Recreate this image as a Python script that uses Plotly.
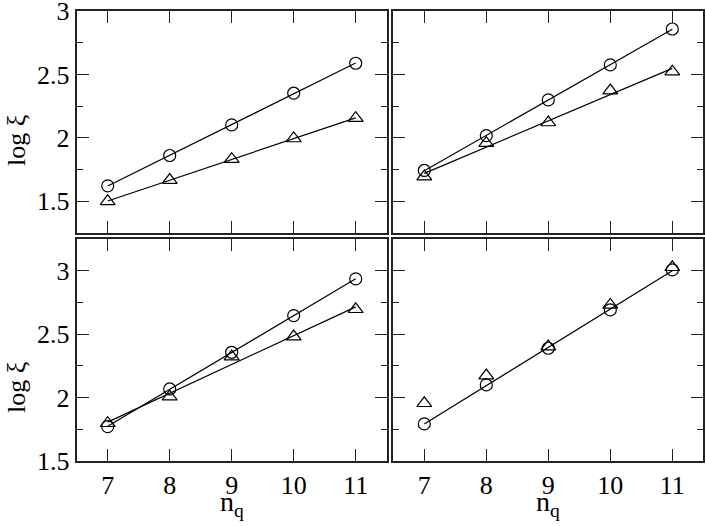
import numpy as np
import plotly.graph_objects as go
from plotly.subplots import make_subplots

nq = [7, 8, 9, 10, 11]

# panel (1,1) top-left
tl_circ = [1.622, 1.861, 2.102, 2.352, 2.588]
tl_tri = [1.500, 1.667, 1.832, 1.995, 2.155]
# panel (1,2) top-right
tr_circ = [1.743, 2.018, 2.299, 2.575, 2.858]
tr_tri = [1.695, 1.958, 2.121, 2.373, 2.522]
# panel (2,1) bottom-left
bl_circ = [1.769, 2.067, 2.357, 2.647, 2.937]
bl_tri = [1.796, 2.006, 2.323, 2.481, 2.697]
# panel (2,2) bottom-right
br_circ = [1.791, 2.099, 2.389, 2.692, 3.008]
br_tri = [1.954, 2.173, 2.402, 2.731, 3.029]

xticks = [7, 8, 9, 10, 11]
xtick_text = ["7", "8", "9", "10", "11"]
yticks = [1.5, 2, 2.5, 3]
ytick_text = ["1.5", "2", "2.5", "3"]

W, H = 706, 526
FONT = "Liberation Serif, Times New Roman, serif"

fig = make_subplots(rows=2, cols=2)

panels = [
    (1, 1, tl_circ, tl_tri, True),
    (1, 2, tr_circ, tr_tri, True),
    (2, 1, bl_circ, bl_tri, True),
    (2, 2, br_circ, br_tri, False),
]

def fit_line(x, y):
    k, b = np.polyfit(x, y, 1)
    xs = [min(x), max(x)]
    return xs, [k * v + b for v in xs]

for r, c, circ, tri, tri_line in panels:
    xs, ys = fit_line(nq, circ)
    fig.add_trace(go.Scatter(x=xs, y=ys, mode="lines",
                             line=dict(color="black", width=1.2),
                             showlegend=False, hoverinfo="skip"), row=r, col=c)
    if tri_line:
        xs, ys = fit_line(nq, tri)
        fig.add_trace(go.Scatter(x=xs, y=ys, mode="lines",
                                 line=dict(color="black", width=1.2),
                                 showlegend=False, hoverinfo="skip"), row=r, col=c)
    fig.add_trace(go.Scatter(x=nq, y=circ, mode="markers",
                             marker=dict(symbol="circle-open", size=12,
                                         color="black", line=dict(width=1.2)),
                             showlegend=False), row=r, col=c)
    fig.add_trace(go.Scatter(x=nq, y=tri, mode="markers",
                             marker=dict(symbol="triangle-up-open", size=13,
                                         color="black", line=dict(width=1.2)),
                             showlegend=False), row=r, col=c)

# panel domains in pixels
xl = (76.7 / W, 386.7 / W)
xr = (393.3 / W, 703.3 / W)
yt = (1 - 233 / H, 1 - 11 / H)
yb = (1 - 460.7 / H, 1 - 239.3 / H)

axis_common = dict(showline=True, linewidth=2, linecolor="#222", mirror="ticks",
                   ticks="inside", ticklen=12, tickwidth=1.2, tickcolor="#222",
                   showgrid=False, zeroline=False, ticklabeloverflow="allow",
                   automargin=False,
                   tickfont=dict(family=FONT, size=26, color="black"))

for r, c in [(1, 1), (1, 2), (2, 1), (2, 2)]:
    dx = xl if c == 1 else xr
    dy = yt if r == 1 else yb
    fig.update_xaxes(domain=list(dx), range=[6.5, 11.5], tickmode="array",
                     tickvals=xticks, ticktext=xtick_text,
                     showticklabels=(r == 2), row=r, col=c, **axis_common)
    yr = [1.25, 3.0] if r == 1 else [1.5, 3.25]
    fig.update_yaxes(domain=list(dy), range=yr, tickmode="array",
                     tickvals=yticks, ticktext=ytick_text,
                     minor=dict(ticks="inside", ticklen=6, tickcolor="#222",
                                tickwidth=1.2, dtick=0.25, tick0=1.25,
                                tickmode="linear"),
                     showticklabels=(c == 1), row=r, col=c, **axis_common)

annotations = []
# y titles
for ycen in [141, 388]:
    annotations.append(dict(text="log ξ", x=16 / W, y=1 - ycen / H,
                            xref="paper", yref="paper", xanchor="center",
                            yanchor="middle", textangle=-90, showarrow=False,
                            font=dict(family=FONT, size=26, color="black")))
# x titles
for xcen in [231.7, 548.3]:
    annotations.append(dict(text="n<sub>q</sub>", x=xcen / W, y=1 - 503 / H,
                            xref="paper", yref="paper", xanchor="center",
                            yanchor="middle", showarrow=False,
                            font=dict(family=FONT, size=28, color="black")))

fig.update_layout(width=W, height=H, margin=dict(l=0, r=0, t=0, b=0, autoexpand=False),
                  paper_bgcolor="white", plot_bgcolor="white",
                  font=dict(family=FONT),
                  annotations=annotations, showlegend=False)

fig.write_html("out.html",
               config={"displayModeBar": False},
               post_script="document.body.style.margin='0';document.body.style.overflow='hidden';")
